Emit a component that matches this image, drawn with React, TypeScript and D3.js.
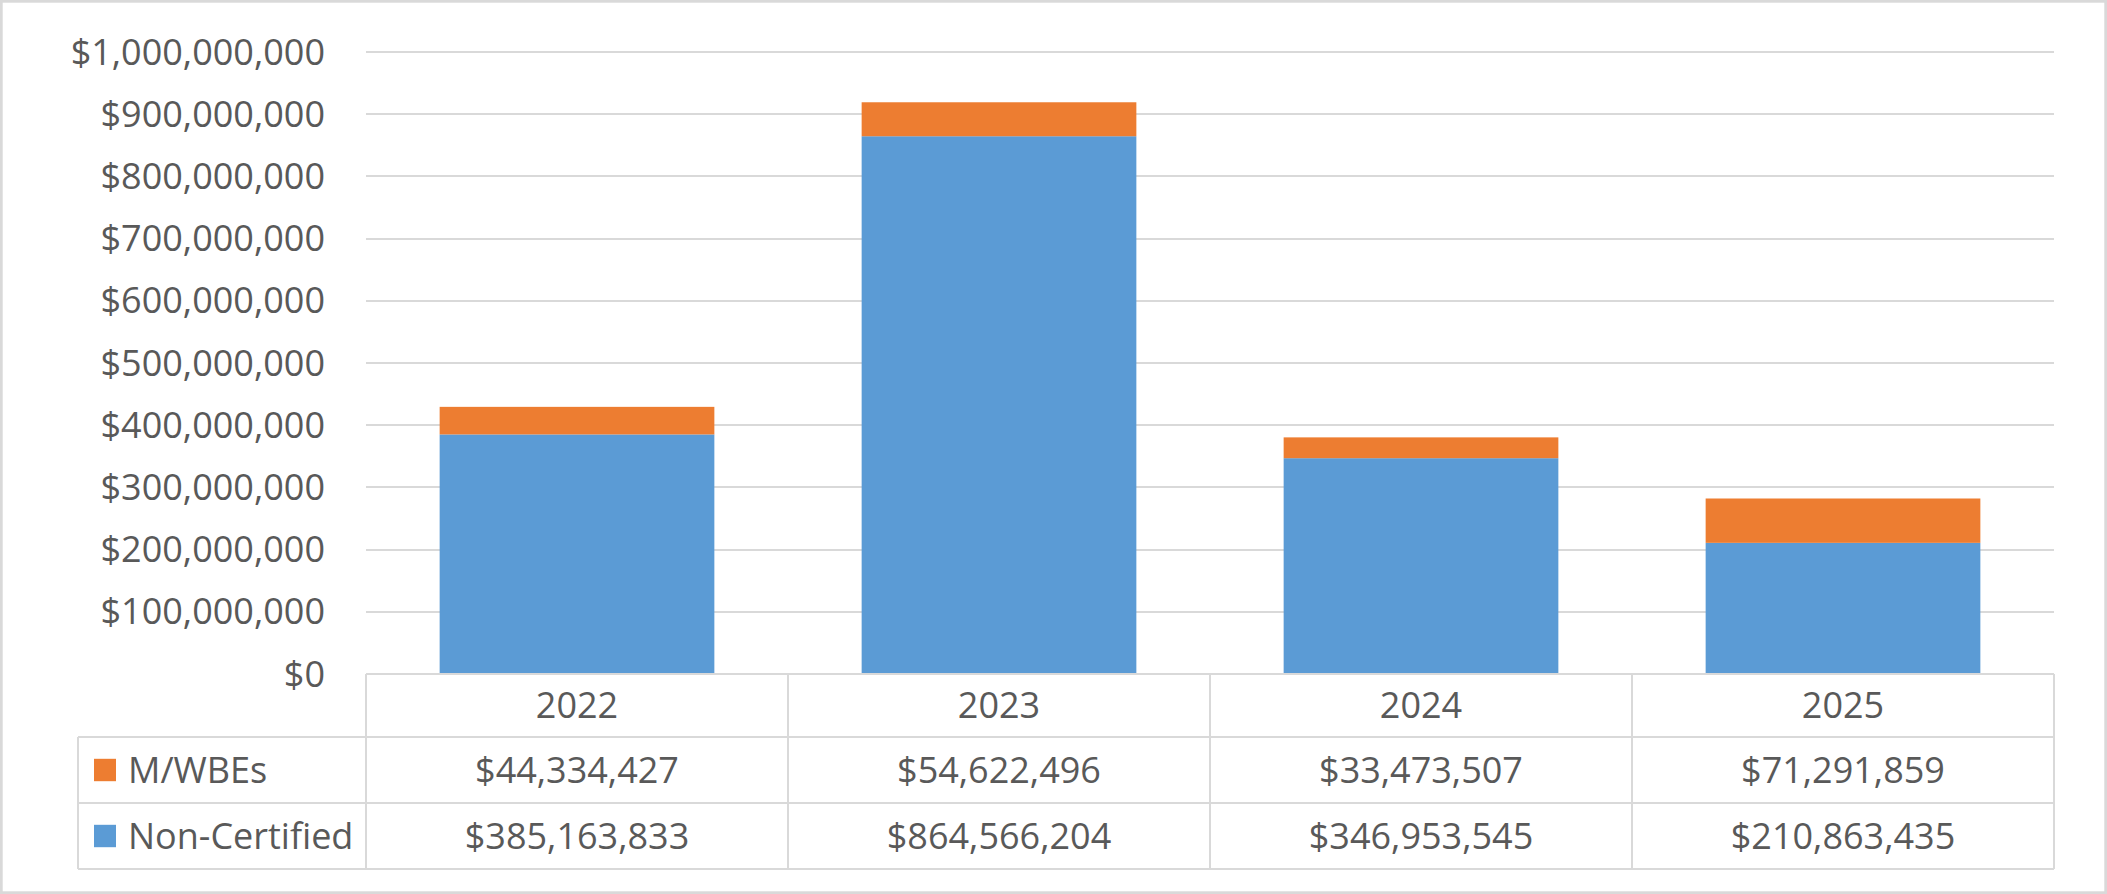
import React from "react";
import * as d3 from "d3";

const years = ["2022", "2023", "2024", "2025"];
const mwbe = [44334427, 54622496, 33473507, 71291859];
const nonCertified = [385163833, 864566204, 346953545, 210863435];
const yTicks = [0, 100000000, 200000000, 300000000, 400000000, 500000000, 600000000, 700000000, 800000000, 900000000, 1000000000];
const seriesNames = ["M/WBEs", "Non-Certified"];
const seriesColors = ["#ED7D31", "#5B9BD5"];

const W = 2107;
const H = 894;
const FONT = "'Open Sans', sans-serif";
const TEXT = "#595959";
const GRID = "#d9d9d9";

export default function App() {
  const plotLeft = 366;
  const plotRight = 2054;
  const y0 = 674;
  const yTop = 52;
  const legendLeft = 78;
  const rowTops = [674, 737, 803, 869];

  const x = d3.scaleBand<string>().domain(years).range([plotLeft, plotRight]).paddingInner(0.349).paddingOuter(0.1745);
  const cols = d3.scaleBand<string>().domain(years).range([plotLeft, plotRight]).padding(0);
  const y = d3.scaleLinear().domain([0, 1000000000]).range([y0, yTop]);
  const fmt = (v: number) => "$" + d3.format(",")(v);

  const rows = years.map((yr, i) => ({ year: yr, mwbe: mwbe[i], non: nonCertified[i] }));
  const stack = d3.stack<any>().keys(["non", "mwbe"])(rows);
  const colorFor: Record<string, string> = { non: seriesColors[1], mwbe: seriesColors[0] };

  const tableRowsData = [mwbe, nonCertified];

  return (
    <svg width={W} height={H} style={{ position: "absolute", left: 0, top: 0, background: "#fff" }} fontFamily={FONT}>
      <rect x={1.35} y={1.35} width={W - 2.7} height={H - 2.7} fill="#fff" stroke={GRID} strokeWidth={2.7} />
      {/* gridlines */}
      {yTicks.map((t) => (
        <line key={"g" + t} x1={plotLeft} x2={plotRight} y1={Math.round(y(t))} y2={Math.round(y(t))} stroke={GRID} strokeWidth={2} />
      ))}
      {/* y labels */}
      {yTicks.map((t) => (
        <text key={"l" + t} x={325} y={y(t)} dy="0.35em" textAnchor="end" fontSize={36} fill={TEXT}>
          {fmt(t)}
        </text>
      ))}
      {/* bars */}
      {stack.map((s) =>
        s.map((d: any, i: number) => (
          <rect
            key={s.key + i}
            x={x(years[i])}
            width={x.bandwidth()}
            y={y(d[1])}
            height={Math.min(y(d[0]), y0 - 1) - y(d[1])}
            fill={colorFor[s.key]}
          />
        ))
      )}
      {/* table horizontal lines */}
      <line x1={plotLeft} x2={plotRight} y1={rowTops[0]} y2={rowTops[0]} stroke={GRID} strokeWidth={2} />
      {rowTops.slice(1).map((r) => (
        <line key={"h" + r} x1={legendLeft} x2={plotRight} y1={r} y2={r} stroke={GRID} strokeWidth={2} />
      ))}
      {/* table vertical lines */}
      {years.map((yr) => (
        <line key={"v" + yr} x1={Math.round(cols(yr) as number)} x2={Math.round(cols(yr) as number)} y1={rowTops[0]} y2={rowTops[3]} stroke={GRID} strokeWidth={2} />
      ))}
      <line x1={plotRight} x2={plotRight} y1={rowTops[0]} y2={rowTops[3]} stroke={GRID} strokeWidth={2} />
      <line x1={legendLeft} x2={legendLeft} y1={rowTops[1]} y2={rowTops[3]} stroke={GRID} strokeWidth={2} />
      {/* header */}
      {years.map((yr) => (
        <text key={"yr" + yr} x={(cols(yr) as number) + cols.bandwidth() / 2} y={(rowTops[0] + rowTops[1]) / 2} dy="0.35em" textAnchor="middle" fontSize={36} fill={TEXT}>
          {yr}
        </text>
      ))}
      {/* data rows */}
      {tableRowsData.map((vals, ri) => {
        const cy = (rowTops[ri + 1] + rowTops[ri + 2]) / 2;
        return (
          <g key={"r" + ri}>
            <rect x={94} y={cy - 11.2} width={22} height={22.4} fill={seriesColors[ri]} />
            <text x={128} y={cy} dy="0.35em" fontSize={36} fill={TEXT}>
              {seriesNames[ri]}
            </text>
            {vals.map((v, ci) => (
              <text key={ci} x={(cols(years[ci]) as number) + cols.bandwidth() / 2} y={cy} dy="0.35em" textAnchor="middle" fontSize={36} fill={TEXT}>
                {fmt(v)}
              </text>
            ))}
          </g>
        );
      })}
    </svg>
  );
}
